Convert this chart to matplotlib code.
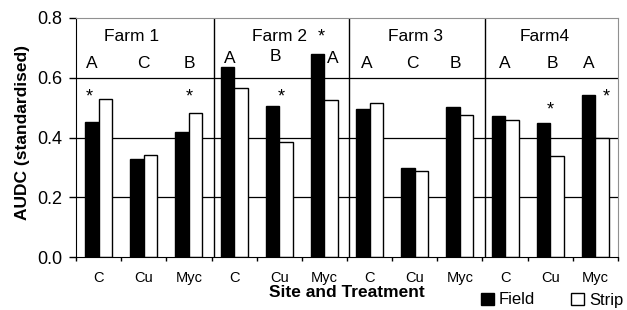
import numpy as np
import matplotlib
matplotlib.use("Agg")
import matplotlib.pyplot as plt
from matplotlib.patches import Patch

plt.rcParams['font.family'] = ['Liberation Sans', 'DejaVu Sans']

farms = ['Farm 1', 'Farm 2', 'Farm 3', 'Farm4']
treatments = ['C', 'Cu', 'Myc'] * 4
field = [0.452, 0.328, 0.419, 0.637, 0.506, 0.679, 0.496, 0.297, 0.503, 0.472, 0.447, 0.543]
strip = [0.529, 0.341, 0.482, 0.566, 0.386, 0.525, 0.514, 0.288, 0.476, 0.459, 0.339, 0.400]
letters = ['A', 'C', 'B', 'A', 'B', 'A', 'A', 'C', 'B', 'A', 'B', 'A']
star_cats = [0, 2, 4, 5, 10, 11]

# annotation placement (data units)
letter_dx = [-0.15, 0, 0, -0.1, -0.08, 0.18, -0.06, -0.05, -0.09, 0, 0.05, -0.14]
letter_y = [0.648] * 3 + [0.663, 0.670, 0.665] + [0.648] * 6
star_dx = [-0.21, 0.0, 0.05, -0.08, -0.01, 0.23]
star_y = [0.549, 0.549, 0.549, 0.75, 0.505, 0.549]
farm_x = [0.72, 4.01, 7.01, 9.88]

x = np.arange(len(treatments))
w = 0.3

fig = plt.figure(figsize=(6.27, 3.10), dpi=100)
ax = fig.add_axes([76 / 627, 1 - 257 / 310, 542 / 627, 239 / 310])

for g in [0.2, 0.4, 0.6]:
    ax.axhline(g, color='black', lw=0.9, zorder=1)
for b in [2.55, 5.55, 8.55]:
    ax.axvline(b, color='black', lw=1, zorder=1)

ax.bar(x - w / 2, field, w, color='black', edgecolor='black', lw=1, zorder=2, label='Field')
ax.bar(x + w / 2, strip, w, color='white', edgecolor='black', lw=1, zorder=2, label='Strip')

for i, name in enumerate(farms):
    ax.text(farm_x[i], 0.737, name, ha='center', va='center', fontsize=12.5)
for i, l in enumerate(letters):
    ax.text(x[i] + letter_dx[i], letter_y[i], l, ha='center', va='center', fontsize=12.5)
for k, c in enumerate(star_cats):
    ax.text(x[c] + star_dx[k], star_y[k] - 0.012, '*', ha='center', va='center', fontsize=13)

ax.set_xlim(-0.5, 11.5)
ax.set_ylim(0, 0.8)
ax.set_yticks([0, 0.2, 0.4, 0.6, 0.8])
ax.set_yticklabels(['0.0', '0.2', '0.4', '0.6', '0.8'], fontsize=13)
ax.tick_params(axis='y', length=5, width=1, pad=5)

ax.set_xticks(np.arange(-0.5, 12, 1))
ax.set_xticklabels([])
ax.tick_params(axis='x', which='major', length=3, width=1)
ax.set_xticks(x, minor=True)
ax.set_xticklabels(treatments, minor=True)
ax.tick_params(axis='x', which='minor', length=0, pad=10, labelsize=10.5)

for s in ['top', 'right']:
    ax.spines[s].set_color('#909090')

ax.set_xlabel('Site and Treatment', fontsize=12.5, fontweight='bold')
ax.xaxis.set_label_coords(0.5, -0.118)
ax.set_ylabel('AUDC (standardised)', fontsize=12.5, fontweight='bold')
ax.yaxis.set_label_coords(-0.085, 0.52)

handles = [Patch(facecolor='black', edgecolor='black'),
           Patch(facecolor='white', edgecolor='black')]
fig.legend(handles, ['Field', 'Strip'], loc='center left',
           bbox_to_anchor=(481 / 627, 1 - 300 / 310), ncol=2, frameon=False,
           fontsize=12, handlelength=0.75, handleheight=0.75, handletextpad=0.3,
           columnspacing=2.2, borderpad=0, borderaxespad=0)

fig.savefig('out.png', dpi=100)
